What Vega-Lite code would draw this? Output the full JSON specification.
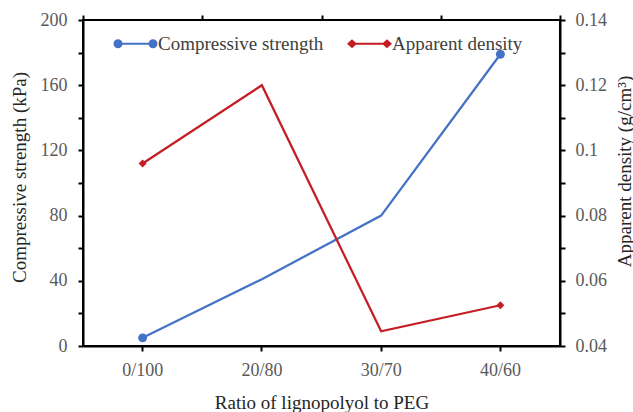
{
  "$schema": "https://vega.github.io/schema/vega-lite/v6.json",
  "width": 477,
  "height": 326,
  "autosize": {"type": "none"},
  "padding": {"left": 83, "top": 20, "right": 73, "bottom": 66},
  "background": "white",
  "data": {
    "values": [
      {"ratio": "0/100", "strength": 5, "density": 0.096},
      {"ratio": "20/80", "strength": 41, "density": 0.12},
      {"ratio": "30/70", "strength": 80, "density": 0.0445},
      {"ratio": "40/60", "strength": 179, "density": 0.0525}
    ]
  },
  "config": {
    "font": "Liberation Serif",
    "view": {"stroke": "#000", "strokeWidth": 2},
    "axis": {
      "grid": false,
      "domainColor": "#000",
      "domainWidth": 2,
      "tickColor": "#000",
      "tickWidth": 2,
      "tickSize": 5,
      "labelFont": "Liberation Serif",
      "labelFontSize": 18,
      "labelColor": "#595959",
      "titleFont": "Liberation Serif",
      "titleFontSize": 19,
      "titleFontWeight": "normal",
      "titleColor": "#262626"
    }
  },
  "layer": [
    {
      "encoding": {
        "x": {
          "field": "ratio",
          "type": "nominal",
          "sort": null,
          "scale": {"type": "band", "paddingInner": 0, "paddingOuter": 0},
          "axis": {
            "title": "Ratio of lignopolyol to PEG",
            "labelAngle": 0,
            "labelPadding": 10,
            "titleY": 56,
            "titleBaseline": "middle"
          }
        },
        "y": {
          "field": "strength",
          "type": "quantitative",
          "scale": {"domain": [0, 200], "nice": false, "zero": false},
          "axis": {
            "orient": "left",
            "values": [0, 20, 40, 60, 80, 100, 120, 140, 160, 180, 200],
            "labelExpr": "datum.value % 40 == 0 ? datum.label : ''",
            "labelPadding": 11,
            "title": "Compressive strength (kPa)",
            "titleX": -64,
            "titleY": 157,
            "titleAngle": -90,
            "titleBaseline": "middle"
          }
        }
      },
      "layer": [
        {
          "mark": {"type": "line", "strokeWidth": 2.25},
          "encoding": {
            "color": {
              "datum": "Compressive strength",
              "type": "nominal",
              "scale": {"domain": ["Compressive strength", "Apparent density"], "range": ["#4472C4", "#C41E24"]},
              "legend": {
                "orient": "none",
                "legendX": 34,
                "legendY": 5,
                "direction": "horizontal",
                "title": null,
                "padding": 0,
                "symbolType": "M-1,0L1,0",
                "symbolSize": 1225,
                "symbolStrokeWidth": 2,
                "labelFont": "Liberation Serif",
                "labelFontSize": 19,
                "labelColor": "#404040",
                "labelOffset": 4,
                "labelLimit": 400,
                "columnPadding": 20,
                "encode": {
                  "symbols": {
                    "update": {
                      "shape": {"signal": "datum.value == 'Compressive strength' ? 'M-1,0L1,0M-1.2,0A0.2,0.2,0,1,1,-0.8,0A0.2,0.2,0,1,1,-1.2,0ZM0.8,0A0.2,0.2,0,1,1,1.2,0A0.2,0.2,0,1,1,0.8,0Z' : 'M-1,0L1,0M-1.2,0L-1,-0.18L-0.8,0L-1,0.18ZM0.8,0L1,-0.18L1.2,0L1,0.18Z'"},
                      "fill": {"signal": "datum.value == 'Compressive strength' ? '#4472C4' : '#C41E24'"},
                      "stroke": {"signal": "datum.value == 'Compressive strength' ? '#4472C4' : '#C41E24'"},
                      "fillOpacity": {"value": 1},
                      "opacity": {"value": 1}
                    }
                  }
                }
              }
            }
          }
        },
        {
          "transform": [{"filter": "datum.ratio == '0/100' || datum.ratio == '40/60'"}],
          "mark": {"type": "point", "shape": "circle", "filled": true, "size": 80, "color": "#4472C4", "opacity": 1}
        }
      ]
    },
    {
      "encoding": {
        "x": {
          "field": "ratio",
          "type": "nominal",
          "sort": null,
          "scale": {"type": "band", "paddingInner": 0, "paddingOuter": 0},
          "axis": {
            "tickBand": "extent",
            "labels": false,
            "domain": false,
            "title": null
          }
        },
        "y": {
          "field": "density",
          "type": "quantitative",
          "scale": {"domain": [0.04, 0.14], "nice": false, "zero": false},
          "axis": {
            "orient": "right",
            "values": [0.04, 0.05, 0.06, 0.07, 0.08, 0.09, 0.1, 0.11, 0.12, 0.13, 0.14],
            "format": ".2~f",
            "labelExpr": "round(datum.value * 100) % 2 == 0 ? datum.label : ''",
            "labelPadding": 10,
            "title": "Apparent density (g/cm³)",
            "titleX": 64,
            "titleY": 151,
            "titleAngle": -90,
            "titleBaseline": "middle"
          }
        }
      },
      "layer": [
        {
          "mark": {"type": "line", "strokeWidth": 2.25},
          "encoding": {
            "color": {
              "datum": "Apparent density",
              "type": "nominal",
              "scale": {"domain": ["Compressive strength", "Apparent density"], "range": ["#4472C4", "#C41E24"]}
            }
          }
        },
        {
          "transform": [{"filter": "datum.ratio == '0/100' || datum.ratio == '40/60'"}],
          "mark": {"type": "point", "shape": "diamond", "filled": true, "size": 64, "color": "#C41E24", "opacity": 1}
        }
      ]
    }
  ],
  "resolve": {"scale": {"y": "independent"}, "axis": {"x": "independent"}}
}
